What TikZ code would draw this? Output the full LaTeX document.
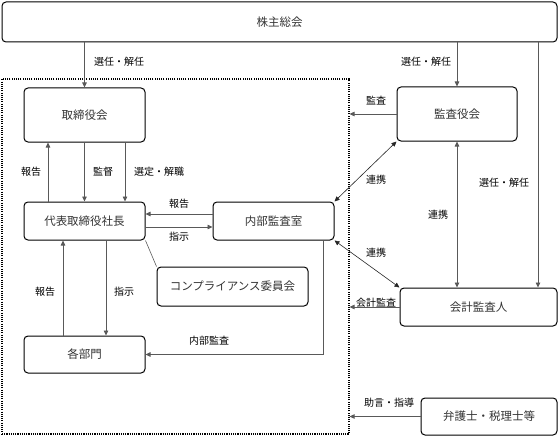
\documentclass[tikz,border=0pt]{standalone}
\usepackage{fontspec}
\setmainfont{Noto Sans CJK JP}
\usetikzlibrary{arrows.meta}
\begin{document}
\begin{tikzpicture}[x=1pt,y=-1pt,
    orgbox/.style={draw,line width=1pt,rounded corners=4pt,inner sep=0pt,font=\fontsize{11.5}{12}\selectfont,text=black!80},
    link/.style={draw=black!65,line width=0.8pt,-{Triangle[length=5pt,width=4.5pt]}},
    twolink/.style={link,{Triangle[length=5pt,width=4.5pt]}-{Triangle[length=5pt,width=4.5pt]},draw=black!85,line width=0.6pt},
    lbl/.style={font=\fontsize{9.5}{10}\selectfont,text=black!75,inner sep=0pt}]
  \useasboundingbox (0,0) rectangle (560,436);
  % company boundary
  \node [draw,line width=1.1pt,dash pattern=on 1.1pt off 1.1pt,minimum width=347pt,minimum height=355pt,inner sep=0pt]
    (company) at (175.5,256.5) {};
  % boxes
  \node [orgbox,minimum width=555pt,minimum height=40pt] (meeting) at (279.5,22) {株主総会};
  \node [orgbox,minimum width=121pt,minimum height=54pt] (board) at (84.5,115) {取締役会};
  \node [orgbox,minimum width=121pt,minimum height=38pt] (ceo) at (84.5,221) {代表取締役社長};
  \node [orgbox,minimum width=121pt,minimum height=38pt] (intaudit) at (273.5,221) {内部監査室};
  \node [orgbox,minimum width=151pt,minimum height=39pt] (compliance) at (232.5,286.5) {コンプライアンス委員会};
  \node [orgbox,minimum width=121pt,minimum height=37pt] (depts) at (84.5,354.5) {各部門};
  \node [orgbox,minimum width=120pt,minimum height=54pt] (auditors) at (457,114) {監査役会};
  \node [orgbox,minimum width=157pt,minimum height=38pt] (accountant) at (478.5,307) {会計監査人};
  \node [orgbox,minimum width=136pt,minimum height=37pt] (lawyers) at (489,416.5) {弁護士・税理士等};
  % connectors
  \draw [link] (meeting.south -| board.north) -- (board.north);
  \draw [link] (meeting.south -| auditors.north) -- (auditors.north);
  \coordinate (acctin) at ([xshift=59.5pt]accountant.north);
  \draw [link] (meeting.south -| acctin) -- (acctin);
  \foreach \dx in {0,40.5}
    \draw [link] ([xshift=\dx pt]board.south) -- ([xshift=\dx pt]ceo.north);
  \draw [link] ([xshift=-36.5pt]ceo.north) -- ([xshift=-36.5pt]board.south);
  \draw [link] ([yshift=7pt]intaudit.west) -- ([yshift=7pt]intaudit.west -| ceo.east);
  \draw [link] ([yshift=-6pt]ceo.east) -- ([yshift=-6pt]ceo.east -| intaudit.west);
  \draw [link] ([xshift=-21.5pt]depts.north) -- ([xshift=-21.5pt]ceo.south);
  \draw [link] ([xshift=21.5pt]ceo.south) -- ([xshift=21.5pt]depts.north);
  \draw [draw=black!65,line width=0.6pt] (ceo.south east) -- (compliance.north west);
  \coordinate (auditout) at ([xshift=49.5pt]intaudit.south);
  \draw [link] (auditout) |- (depts.east);
  \draw [link] (auditors.west) -- (auditors.west -| company.east);
  \draw [link] (accountant.west) -- (accountant.west -| company.east);
  \draw [link] (lawyers.west) -- (lawyers.west -| company.east);
  \draw [twolink] (auditors.south west) -- (intaudit.north east);
  \draw [twolink] (intaudit.south east) -- (accountant.north west);
  \draw [twolink,draw=black!65,line width=0.8pt] (auditors.south) -- (auditors.south |- accountant.north);
  % labels
  { [every node/.style={lbl}]
    \node at (119,62) {選任・解任};
    \node at (426,62) {選任・解任};
    \node at (31,172) {報告};
    \node at (103,172) {監督};
    \node at (159,172) {選定・解職};
    \node at (179,204) {報告};
    \node at (179,237) {指示};
    \node at (45,292) {報告};
    \node at (124,292) {指示};
    \node at (209,341) {内部監査};
    \node at (376,101) {監査};
    \node at (376,180) {連携};
    \node at (438,215) {連携};
    \node at (504,183) {選任・解任};
    \node at (376,253) {連携};
    \node at (376,303) {会計監査};
    \node at (389,403) {助言・指導};
  }
\end{tikzpicture}
\end{document}
